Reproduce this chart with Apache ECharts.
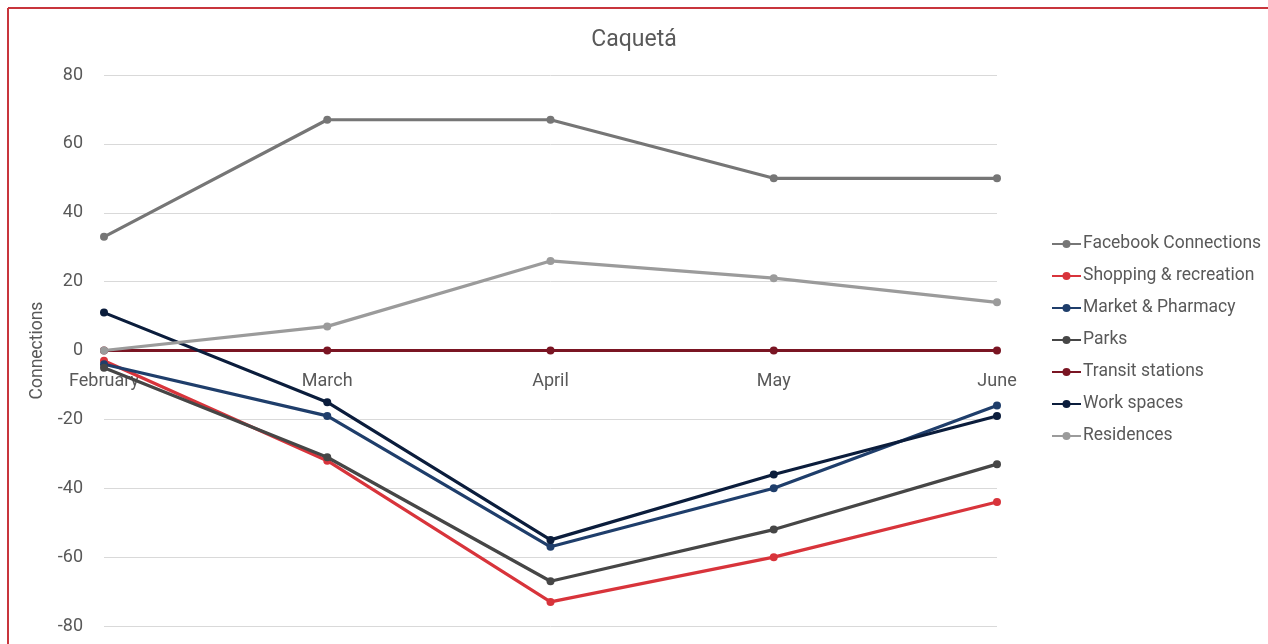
<!DOCTYPE html>
<html>
<head>
<meta charset="utf-8">
<script src="https://cdn.jsdelivr.net/npm/echarts@6/dist/echarts.min.js"></script>
<style>
  html, body { margin: 0; padding: 0; background: #fff; }
  #chart { width: 1268px; height: 644px; }
</style>
</head>
<body>
<div id="chart"></div>
<script>
// Mobility by place category, Caquetá
const months = ['February', 'March', 'April', 'May', 'June'];
const yTicks = [-80, -60, -40, -20, 0, 20, 40, 60, 80];

const facebookConnections = [33, 67, 67, 50, 50];
const shoppingRecreation = [-3, -32, -73, -60, -44];
const marketPharmacy = [-4, -19, -57, -40, -16];
const parks = [-5, -31, -67, -52, -33];
const transitStations = [0, 0, 0, 0, 0];
const workSpaces = [11, -15, -55, -36, -19];
const residences = [0, 7, 26, 21, 14];

const seriesNames = ['Facebook Connections', 'Shopping & recreation', 'Market & Pharmacy',
  'Parks', 'Transit stations', 'Work spaces', 'Residences'];
const seriesData = [facebookConnections, shoppingRecreation, marketPharmacy,
  parks, transitStations, workSpaces, residences];
const seriesColors = ['#767676', '#d8343b', '#1f3e6b', '#464646', '#7a1523', '#0b1d3c', '#9b9b9b'];

const FONT = 'Roboto, "Noto Sans", sans-serif';
const TEXT = '#595959';

// plot area
const GRID = { left: 104, right: 271, top: 75, bottom: 18 };
const plotHeight = 644 - GRID.top - GRID.bottom;
const yMin = yTicks[0];
const yMax = yTicks[yTicks.length - 1];
// the category axis sits on the zero line
const zeroOffset = -plotHeight * (0 - yMin) / (yMax - yMin);

const chart = echarts.init(document.getElementById('chart'), null, { renderer: 'canvas' });

chart.setOption({
  animation: false,
  textStyle: { fontFamily: FONT, color: TEXT },
  title: {
    text: 'Caquetá',
    left: 'center',
    top: 24,
    textStyle: { fontFamily: FONT, fontSize: 23, fontWeight: 'normal', color: TEXT }
  },
  graphic: [
    { type: 'line', shape: { x1: 8, y1: 8, x2: 8, y2: 644 }, style: { stroke: '#c8353c', lineWidth: 2 } },
    { type: 'line', shape: { x1: 8, y1: 8, x2: 1268, y2: 8 }, style: { stroke: '#c8353c', lineWidth: 2 } }
  ],
  legend: {
    orient: 'vertical',
    left: 1051,
    top: 234,
    padding: 0,
    itemWidth: 29,
    itemHeight: 10,
    itemGap: 12,
    data: seriesNames,
    textStyle: { fontFamily: FONT, fontSize: 17.5, color: TEXT, lineHeight: 20, padding: [0, 0, 0, -3] }
  },
  grid: Object.assign({ outerBoundsMode: 'none', containLabel: false }, GRID),
  xAxis: {
    type: 'category',
    data: months,
    boundaryGap: false,
    position: 'bottom',
    offset: zeroOffset,
    axisLine: { onZero: false, lineStyle: { color: '#d0d0d0', width: 1 } },
    axisTick: { show: false },
    axisLabel: { fontFamily: FONT, fontSize: 18, color: TEXT, margin: 22, interval: 0 },
    splitLine: { show: false }
  },
  yAxis: {
    type: 'value',
    min: yMin,
    max: yMax,
    interval: 20,
    name: 'Connections',
    nameLocation: 'middle',
    nameGap: 50,
    nameTextStyle: { fontFamily: FONT, fontSize: 17.5, color: TEXT },
    axisLine: { show: false },
    axisTick: { show: false },
    axisLabel: { fontFamily: FONT, fontSize: 18, color: TEXT, margin: 21 },
    splitLine: { lineStyle: { color: '#d9d9d9', width: 1 } }
  },
  series: seriesNames.map((name, i) => ({
    name: name,
    type: 'line',
    data: seriesData[i],
    symbol: 'circle',
    symbolSize: 8,
    lineStyle: { width: 3.2, color: seriesColors[i] },
    itemStyle: { color: seriesColors[i] },
    z: 2 + i
  }))
});
</script>
</body>
</html>
